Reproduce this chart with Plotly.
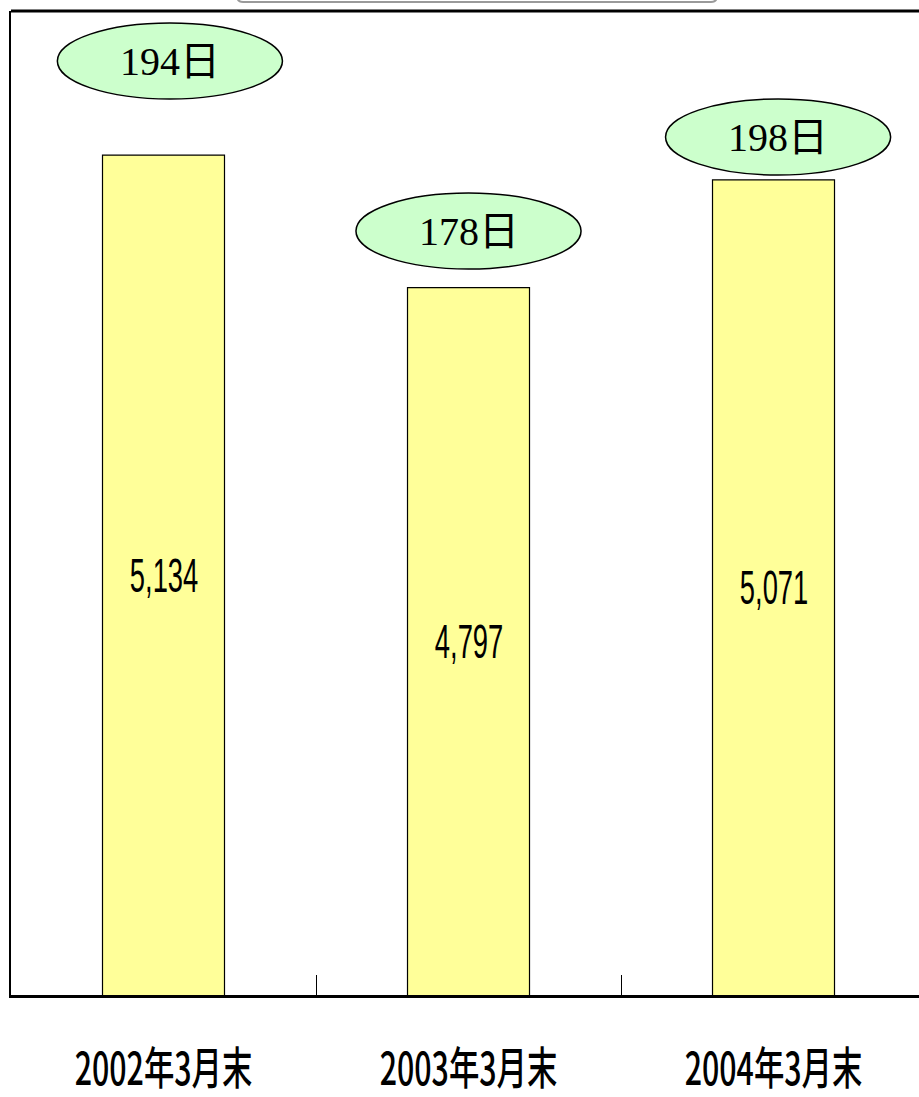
import plotly.graph_objects as go

categories = ["2002年3月末", "2003年3月末", "2004年3月末"]
values = [5134, 4797, 5071]
value_labels = ["5,134", "4,797", "5,071"]
day_labels = ["194日", "178日", "198日"]

Y_MIN, Y_MAX = 3000, 5500

fig = go.Figure()
fig.add_trace(go.Bar(
    x=categories, y=values, width=0.4,
    marker=dict(color="#FFFF99", line=dict(color="black", width=1.2)),
    hoverinfo="skip",
))

annotations = []
# value labels centred in the visible part of each bar
for c, v, lab in zip(categories, values, value_labels):
    annotations.append(dict(x=c, y=(Y_MIN + v) / 2, xref="x", yref="y", text=lab, showarrow=False,
                            font=dict(family="Liberation Sans", size=48, color="black")))

# ellipse callouts (layout positions, x in category index units, y in paper units)
ellipses = [(-0.348, 0.390, 0.9106, 0.9878),
            (0.631, 1.369, 0.7378, 0.8150),
            (1.646, 2.384, 0.8333, 0.9106)]
shapes = []
for (x0, x1, y0, y1), lab in zip(ellipses, day_labels):
    shapes.append(dict(type="circle", xref="x", yref="paper", x0=x0, x1=x1, y0=y0, y1=y1,
                       fillcolor="#CCFFCC", line=dict(color="black", width=1.5), layer="above"))
    annotations.append(dict(x=(x0 + x1) / 2, y=(y0 + y1) / 2, xref="x", yref="paper",
                            text=lab, showarrow=False, yshift=24,
                            font=dict(family="Liberation Serif, Noto Sans CJK JP", size=40, color="black")))

# top frame line
shapes.append(dict(type="line", xref="paper", yref="paper", x0=0, x1=1, y0=1, y1=1,
                   line=dict(color="black", width=3)))
# partially visible title box at top
xa, xb = 0.249, 0.7775
yb, yt = 1.0091, 1.05
rx, ry = 0.0066, 0.0061
shapes.append(dict(type="path", xref="paper", yref="paper",
                   path=(f"M {xa},{yt} L {xa},{yb+ry} Q {xa},{yb} {xa+rx},{yb} "
                         f"L {xb-rx},{yb} Q {xb},{yb} {xb},{yb+ry} L {xb},{yt} Z"),
                   fillcolor="white", line=dict(color="#9a9a9a", width=2)))

fig.update_layout(
    width=919, height=1097,
    margin=dict(l=11, r=0, t=11, b=102, autoexpand=False),
    paper_bgcolor="white", plot_bgcolor="white",
    showlegend=False,
    shapes=shapes, annotations=annotations,
    xaxis=dict(type="category", range=[-0.5, 2.477], showline=True, linecolor="black", linewidth=3,
               ticks="inside", tickson="boundaries", ticklen=20, tickcolor="black", tickwidth=1,
               showgrid=False, zeroline=False, ticklabelstandoff=33, automargin=False,
               tickfont=dict(family="Noto Sans CJK JP", size=45, color="black", weight=500)),
    yaxis=dict(range=[Y_MIN, Y_MAX], showline=True, linecolor="black", linewidth=1.5,
               showticklabels=False, ticks="", showgrid=False, zeroline=False, automargin=False),
)

# condense the sans-serif labels horizontally (the reference uses a narrow face)
post = """
document.body.style.margin='0';document.body.style.overflow='hidden';
function squeeze(sel, s){
  document.querySelectorAll(sel).forEach(function(t){
    var b=t.getBBox(); var cx=b.x+b.width/2;
    var tr=t.getAttribute('transform')||'';
    t.setAttribute('transform', tr+' translate('+cx+',0) scale('+s+',1) translate('+(-cx)+',0)');
  });
}
squeeze('.xtick text', 0.675);
squeeze('.annotation[data-index="0"] text, .annotation[data-index="1"] text, .annotation[data-index="2"] text', 0.57);
"""
fig.write_html("out.html", config={"displayModeBar": False}, post_script=post)
